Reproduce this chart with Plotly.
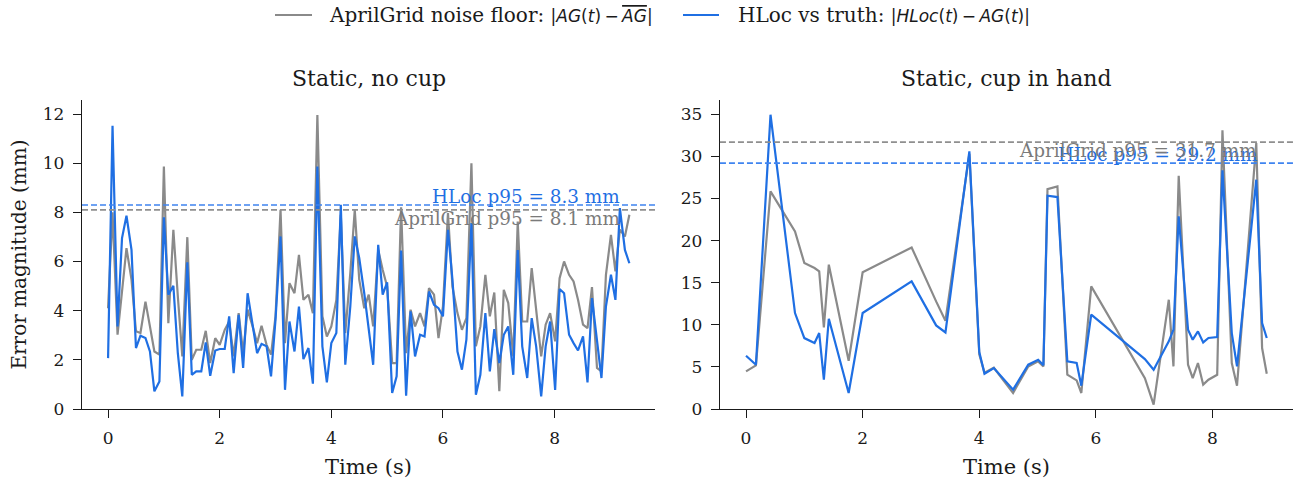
import plotly.graph_objects as go

# ---------------- data ----------------
T_LEFT = [0.00, 0.08, 0.17, 0.25, 0.33, 0.42, 0.50, 0.58, 0.67, 0.75,
          0.83, 0.92, 1.00, 1.08, 1.17, 1.25, 1.33, 1.42, 1.50, 1.58,
          1.67, 1.75, 1.83, 1.92, 2.00, 2.09, 2.17, 2.25, 2.34, 2.42,
          2.50, 2.59, 2.67, 2.75, 2.84, 2.92, 3.00, 3.09, 3.17, 3.25,
          3.34, 3.42, 3.50, 3.59, 3.67, 3.75, 3.84, 3.92, 4.00, 4.09,
          4.17, 4.25, 4.34, 4.42, 4.50, 4.59, 4.67, 4.75, 4.84, 4.92,
          5.00, 5.09, 5.17, 5.25, 5.34, 5.42, 5.50, 5.59, 5.67, 5.75,
          5.84, 5.92, 6.00, 6.09, 6.17, 6.26, 6.34, 6.42, 6.51, 6.59,
          6.67, 6.76, 6.84, 6.92, 7.01, 7.09, 7.17, 7.26, 7.34, 7.42,
          7.51, 7.59, 7.67, 7.76, 7.84, 7.92, 8.01, 8.09, 8.17, 8.26,
          8.34, 8.42, 8.51, 8.59, 8.67, 8.76, 8.84, 8.92, 9.01, 9.09,
          9.17, 9.26, 9.34]

AG_LEFT = [4.10, 8.00, 3.02, 4.78, 6.54, 5.26, 3.16, 3.09, 4.37, 3.36,
           2.34, 2.21, 9.86, 3.49, 7.29, 4.58, 2.14, 6.99, 2.00, 2.41,
           2.41, 3.18, 1.87, 2.88, 2.61, 3.22, 3.56, 2.14, 3.90, 2.27,
           4.04, 3.36, 2.68, 3.39, 2.61, 2.21, 3.77, 8.10, 2.68, 5.12,
           4.71, 6.27, 4.44, 4.65, 3.90, 11.96, 3.77, 2.95, 3.36, 4.44,
           7.90, 3.09, 5.53, 8.10, 5.26, 4.10, 4.65, 3.36, 6.47, 5.66,
           4.98, 1.87, 1.87, 8.21, 2.27, 4.04, 3.36, 3.90, 3.36, 4.92,
           4.65, 2.88, 4.17, 7.97, 4.98, 3.90, 3.22, 3.70, 10.00, 2.55,
           3.36, 5.46, 3.77, 4.74, 0.72, 4.85, 4.31, 2.14, 7.63, 3.56,
           3.56, 5.73, 3.90, 2.14, 3.43, 3.90, 2.75, 5.32, 6.00, 5.46,
           5.19, 4.44, 3.43, 3.29, 4.96, 1.67, 1.53, 5.46, 7.08, 5.60,
           7.30, 7.02, 7.90]

HL_LEFT = [2.07, 11.52, 3.36, 6.95, 7.86, 6.47, 2.48, 2.98, 2.89, 2.34,
           0.72, 1.12, 7.80, 4.65, 5.01, 2.27, 0.51, 5.97, 1.39, 1.53,
           1.53, 2.71, 1.35, 2.38, 2.44, 2.44, 3.77, 1.46, 3.83, 1.67,
           4.71, 3.49, 2.27, 2.65, 2.55, 1.33, 3.63, 7.02, 0.78, 3.56,
           2.34, 4.17, 2.03, 2.48, 1.03, 9.86, 2.55, 1.08, 2.68, 3.09,
           8.31, 1.80, 4.17, 7.02, 6.14, 4.71, 3.36, 1.80, 6.68, 4.65,
           5.15, 0.65, 1.33, 6.45, 0.54, 3.97, 2.14, 3.02, 2.95, 4.78,
           4.24, 4.10, 3.77, 7.29, 5.26, 2.34, 1.60, 2.82, 7.56, 0.58,
           1.39, 3.90, 1.53, 3.25, 1.87, 3.02, 3.36, 1.39, 6.47, 2.55,
           1.26, 3.70, 2.55, 0.51, 2.55, 3.56, 0.78, 4.88, 4.71, 3.02,
           2.68, 2.38, 2.95, 1.08, 4.51, 2.88, 1.26, 4.17, 5.46, 4.44,
           8.17, 6.47, 5.93]

T_RIGHT = [0.00, 0.17, 0.42, 0.84, 1.00, 1.175, 1.255, 1.335, 1.42, 1.76,
           2.00, 2.84, 3.26, 3.42, 3.83, 4.00, 4.09, 4.25, 4.58, 4.84,
           5.01, 5.10, 5.17, 5.34, 5.51, 5.67, 5.75, 5.92, 6.84, 6.99,
           7.25, 7.33, 7.42, 7.58, 7.66, 7.75, 7.84, 7.93, 8.08, 8.17,
           8.33, 8.42, 8.75, 8.85, 8.93]

AG_RIGHT = [4.47, 5.18, 25.85, 21.10, 17.33, 16.74, 16.35, 9.69, 17.14, 5.73,
            16.23, 19.19, 12.78, 10.49, 30.30, 6.50, 4.30, 4.90, 1.90, 5.06,
            5.66, 5.06, 26.12, 26.43, 4.07, 3.40, 1.90, 14.56, 3.67, 0.51,
            12.98, 5.06, 27.71, 5.26, 3.67, 5.46, 2.89, 3.48, 4.07, 33.09,
            5.46, 2.77, 31.58, 7.24, 4.19]

HL_RIGHT = [6.33, 5.26, 34.95, 11.40, 8.42, 7.83, 9.02, 3.48, 10.72, 1.90,
            11.40, 15.16, 9.93, 9.10, 30.60, 6.77, 4.19, 4.86, 2.30, 5.26,
            5.85, 5.19, 25.34, 25.17, 5.66, 5.46, 2.77, 11.20, 5.93, 4.67,
            8.03, 9.42, 22.88, 9.42, 8.23, 9.22, 7.91, 8.43, 8.55, 28.34,
            9.02, 5.06, 27.23, 10.21, 8.43]

P95_AG = [8.1, 31.7]
P95_HL = [8.3, 29.2]
TITLES = ["Static, no cup", "Static, cup in hand"]

# ---------------- style ----------------
GRAY = "#8a8a8a"
BLUE = "#1f6fe3"
SERIF = "DejaVu Serif, serif"
SANS = "DejaVu Sans, sans-serif"
INK = "#1a1a1a"
TS = "\u2009"  # thin space around the binary minus, as in math typesetting

W, H = 1301, 480
ML, MR, MT, MB = 82, 8, 100, 71
PW, PH = W - ML - MR, H - MT - MB


def px_x(px):  # window pixel -> paper x
    return (px - ML) / PW


def px_y(py):  # window pixel -> paper y
    return (H - MB - py) / PH


LEG_AG = ("AprilGrid noise floor: "
          f"<span style='font-family:{SANS};font-size:17px'>|<i>AG</i>(<i>t</i>){TS}−{TS}"
          "<span style='text-decoration:overline'><i>AG</i></span>|</span>")
LEG_HL = ("HLoc vs truth: "
          f"<span style='font-family:{SANS};font-size:17px'>|<i>HLoc</i>(<i>t</i>){TS}−{TS}"
          "<i>AG</i>(<i>t</i>)|</span>")

fig = go.Figure()

panels = [(T_LEFT, AG_LEFT, HL_LEFT, "x", "y"),
          (T_RIGHT, AG_RIGHT, HL_RIGHT, "x2", "y2")]

for k, (t, ag, hl, xa, ya) in enumerate(panels):
    fig.add_trace(go.Scatter(x=t, y=ag, mode="lines", xaxis=xa, yaxis=ya,
                             line=dict(color=GRAY, width=2.2),
                             name="AprilGrid noise floor", showlegend=False))
    fig.add_trace(go.Scatter(x=t, y=hl, mode="lines", xaxis=xa, yaxis=ya,
                             line=dict(color=BLUE, width=2.2),
                             name="HLoc vs truth", showlegend=False))

shapes = []
annotations = []
for k, (t, ag, hl, xa, ya) in enumerate(panels):
    xr = "x domain" if xa == "x" else "x2 domain"
    shapes.append(dict(type="line", xref=xr, yref=ya, x0=0, x1=1,
                       y0=P95_AG[k], y1=P95_AG[k],
                       line=dict(color="#8f8f8f", width=1.6, dash="6px,3px")))
    shapes.append(dict(type="line", xref=xr, yref=ya, x0=0, x1=1,
                       y0=P95_HL[k], y1=P95_HL[k],
                       line=dict(color="#3f84f0", width=1.6, dash="6px,3px")))
    xpos = max(t) * 0.985
    annotations.append(dict(x=xpos, y=P95_HL[k], xref=xa, yref=ya,
                            text=f"HLoc p95 = {P95_HL[k]:.1f} mm",
                            showarrow=False, xanchor="right", yanchor="bottom",
                            yshift=-4,
                            font=dict(family=SERIF, size=18.4, color=BLUE)))
    annotations.append(dict(x=xpos, y=P95_AG[k], xref=xa, yref=ya,
                            text=f"AprilGrid p95 = {P95_AG[k]:.1f} mm",
                            showarrow=False, xanchor="right", yanchor="top",
                            yshift=4,
                            font=dict(family=SERIF, size=18.4, color="#7a7a7a")))
    dom_center = 0.2366 if k == 0 else 0.7634
    annotations.append(dict(x=dom_center, y=1.0, xref="paper", yref="paper",
                            text=TITLES[k], showarrow=False,
                            xanchor="center", yanchor="middle", yshift=22,
                            font=dict(family=SERIF, size=22, color=INK)))

# figure-level legend, drawn by hand so its spacing matches the reference
LEG_Y = 15
for (x0, x1, tx, col, txt) in [(275, 312, 327, GRAY, LEG_AG),
                               (683, 719, 736, BLUE, LEG_HL)]:
    shapes.append(dict(type="line", xref="paper", yref="paper",
                       x0=px_x(x0), x1=px_x(x1), y0=px_y(LEG_Y), y1=px_y(LEG_Y),
                       line=dict(color=col, width=2.2)))
    annotations.append(dict(x=px_x(tx), y=px_y(LEG_Y), xref="paper", yref="paper",
                            text=txt, showarrow=False, xanchor="left",
                            yanchor="middle",
                            font=dict(family=SERIF, size=20, color=INK)))

axis_common = dict(showline=True, linecolor=INK, linewidth=1.3,
                   ticks="outside", ticklen=8, tickwidth=1.3, tickcolor=INK,
                   showgrid=False, zeroline=False, automargin=False,
                   ticklabelstandoff=5,
                   tickfont=dict(family=SERIF, size=17, color=INK))

fig.update_layout(
    width=W, height=H,
    margin=dict(l=ML, r=MR, t=MT, b=MB),
    paper_bgcolor="white", plot_bgcolor="white",
    font=dict(family=SERIF, size=17, color=INK),
    shapes=shapes, annotations=annotations,
    showlegend=False,
    xaxis=dict(domain=[0, 0.4732], range=[-0.467, 9.80], dtick=2, tick0=0,
               anchor="y",
               title=dict(text="Time (s)", font=dict(family=SERIF, size=21), standoff=12),
               **axis_common),
    yaxis=dict(domain=[0, 1], range=[0, 12.57], dtick=2, tick0=0, anchor="x",
               title=dict(text="Error magnitude (mm)", font=dict(family=SERIF, size=20),
                          standoff=10),
               **axis_common),
    xaxis2=dict(domain=[0.5268, 1], range=[-0.447, 9.38], dtick=2, tick0=0,
                anchor="y2",
                title=dict(text="Time (s)", font=dict(family=SERIF, size=21), standoff=12),
                **axis_common),
    yaxis2=dict(domain=[0, 1], range=[0, 36.7], dtick=5, tick0=0, anchor="x2",
                **axis_common),
)

# remove the browser's default 8px body margin so the figure fills the window
fig.write_html("out.html", config={"displayModeBar": False},
               post_script="document.body.style.margin='0';")
